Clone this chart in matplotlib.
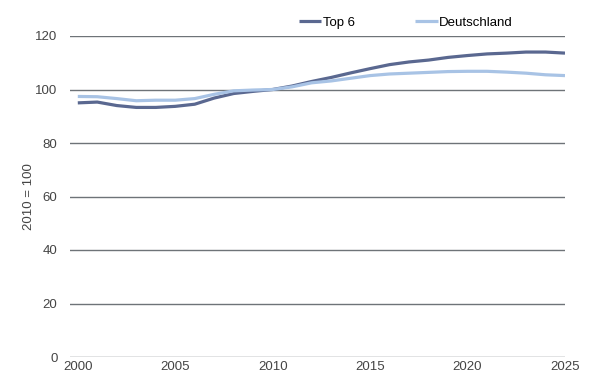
import matplotlib.pyplot as plt
import numpy as np

plt.rcParams['font.family'] = ['Liberation Sans', 'DejaVu Sans']

years = np.arange(2000, 2026)
top6 = [95.0, 95.3, 94.0, 93.3, 93.3, 93.7, 94.5, 96.8, 98.5, 99.3, 100.0,
        101.3, 103.0, 104.5, 106.2, 107.8, 109.3, 110.3, 111.0, 112.0, 112.7,
        113.3, 113.6, 114.0, 114.0, 113.6]
deutschland = [97.4, 97.3, 96.6, 95.8, 96.0, 96.0, 96.6, 98.2, 99.5, 99.8, 100.0,
               101.0, 102.5, 103.2, 104.2, 105.2, 105.8, 106.1, 106.4, 106.7, 106.8,
               106.8, 106.5, 106.1, 105.5, 105.2]
yticks = [0, 20, 40, 60, 80, 100, 120]
xticks = [2000, 2005, 2010, 2015, 2020, 2025]

fig = plt.figure(figsize=(5.95, 3.78), dpi=100)
ax = fig.add_axes([70 / 595, 1 - 357 / 378, 495 / 595, 321 / 378])

ax.plot(years, top6, color='#5a6890', lw=2.3, label='Top 6', solid_capstyle='butt')
ax.plot(years, deutschland, color='#a8c3e5', lw=2.3, label='Deutschland', solid_capstyle='butt')

ax.set_ylim(0, 120)
ax.set_xlim(1999.6, 2025)
ax.set_yticks(yticks)
ax.set_xticks(xticks)
ax.grid(axis='y', color='#6e7378', lw=1)
ax.set_axisbelow(True)
for s in ax.spines.values():
    s.set_visible(False)
ax.tick_params(length=0, labelsize=9.5, colors='#444444')
ax.tick_params(axis='y', pad=9)
ax.tick_params(axis='x', pad=3)
ax.set_ylabel('2010 = 100', fontsize=9.5, color='#444444', labelpad=0)

ax.legend(loc='lower left', bbox_to_anchor=(0.445, 0.995), ncol=2, frameon=False,
          fontsize=9.5, handlelength=1.7, handletextpad=0.1, columnspacing=4.6,
          borderaxespad=0.25)

fig.savefig('out.png', dpi=100)
